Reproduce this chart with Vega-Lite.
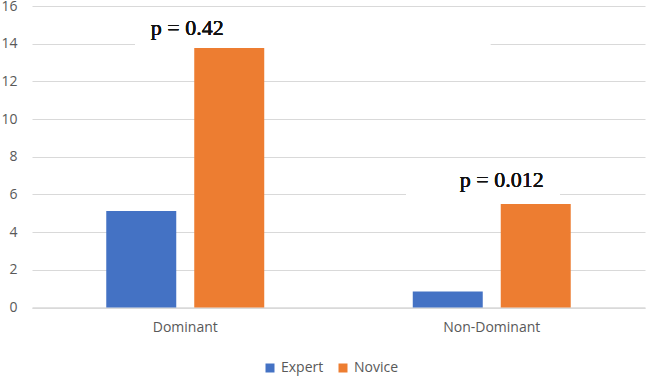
{
  "$schema": "https://vega.github.io/schema/vega-lite/v6.json",
  "autosize": {"type": "none"},
  "padding": {"left": 32, "top": 6, "right": 4, "bottom": 68},
  "width": 613,
  "height": 301.5,
  "background": "white",
  "config": {
    "view": {"stroke": null},
    "font": "Open Sans",
    "axis": {"labelColor": "#595959", "labelFontSize": 14, "labelFont": "Open Sans"},
    "legend": {"labelColor": "#595959", "labelFontSize": 14, "labelFont": "Open Sans"}
  },
  "data": {
    "values": [
      {"hand": "Dominant", "group": "Expert", "value": 5.12},
      {"hand": "Dominant", "group": "Novice", "value": 13.77},
      {"hand": "Non-Dominant", "group": "Expert", "value": 0.85},
      {"hand": "Non-Dominant", "group": "Novice", "value": 5.49}
    ]
  },
  "encoding": {
    "x": {
      "field": "hand", "type": "nominal", "sort": ["Dominant", "Non-Dominant"],
      "scale": {"paddingInner": 0, "paddingOuter": 0},
      "axis": {"title": null, "labelAngle": 0, "ticks": false, "labelPadding": 13, "domainColor": "#d9d9d9", "domainWidth": 1.5}
    }
  },
  "layer": [
    {
      "mark": {"type": "bar"},
      "encoding": {
        "xOffset": {"field": "group", "type": "nominal", "scale": {"paddingInner": 0.2045, "paddingOuter": 0.844}},
        "y": {
          "field": "value", "type": "quantitative",
          "scale": {"domain": [0, 16], "nice": false},
          "axis": {"title": null, "values": [0, 2, 4, 6, 8, 10, 12, 14, 16], "grid": true, "labelOverlap": false, "ticks": false, "domain": false, "labelPadding": 15, "gridColor": "#d9d9d9", "gridWidth": 1.2}
        },
        "color": {
          "field": "group", "type": "nominal",
          "scale": {"domain": ["Expert", "Novice"], "range": ["#4472C4", "#ED7D31"]},
          "legend": {"title": null, "orient": "none", "legendX": 231, "legendY": 355, "direction": "horizontal", "symbolType": "square", "symbolSize": 81, "symbolStrokeWidth": 0, "labelPadding": 3, "columnPadding": 12}
        }
      }
    },
    {
      "mark": {"type": "bar", "color": "white", "width": 355, "xOffset": 127.5},
      "encoding": {
        "x": {"datum": "Dominant"},
        "y": {"datum": 15.93, "axis": {"title": null, "values": [0, 2, 4, 6, 8, 10, 12, 14, 16], "grid": true, "labelOverlap": false, "ticks": false, "domain": false, "labelPadding": 15, "gridColor": "#d9d9d9", "gridWidth": 1.2}},
        "y2": {"datum": 13.86}
      }
    },
    {
      "mark": {"type": "bar", "color": "white", "width": 154, "xOffset": -8.75},
      "encoding": {
        "x": {"datum": "Non-Dominant"},
        "y": {"datum": 7.83, "axis": {"title": null, "values": [0, 2, 4, 6, 8, 10, 12, 14, 16], "grid": true, "labelOverlap": false, "ticks": false, "domain": false, "labelPadding": 15, "gridColor": "#d9d9d9", "gridWidth": 1.2}},
        "y2": {"datum": 5.7}
      }
    },
    {
      "mark": {"type": "text", "font": "serif", "fontWeight": "normal", "fontSize": 22, "color": "#111111", "dx": 2},
      "encoding": {
        "x": {"datum": "Dominant"},
        "y": {"datum": 14.83, "axis": {"title": null, "values": [0, 2, 4, 6, 8, 10, 12, 14, 16], "grid": true, "labelOverlap": false, "ticks": false, "domain": false, "labelPadding": 15, "gridColor": "#d9d9d9", "gridWidth": 1.2}},
        "text": {"value": "p = 0.42"}
      }
    },
    {
      "mark": {"type": "text", "font": "serif", "fontWeight": "normal", "fontSize": 22, "color": "#111111", "dx": 10},
      "encoding": {
        "x": {"datum": "Non-Dominant"},
        "y": {"datum": 6.77, "axis": {"title": null, "values": [0, 2, 4, 6, 8, 10, 12, 14, 16], "grid": true, "labelOverlap": false, "ticks": false, "domain": false, "labelPadding": 15, "gridColor": "#d9d9d9", "gridWidth": 1.2}},
        "text": {"value": "p = 0.012"}
      }
    }
  ]
}
